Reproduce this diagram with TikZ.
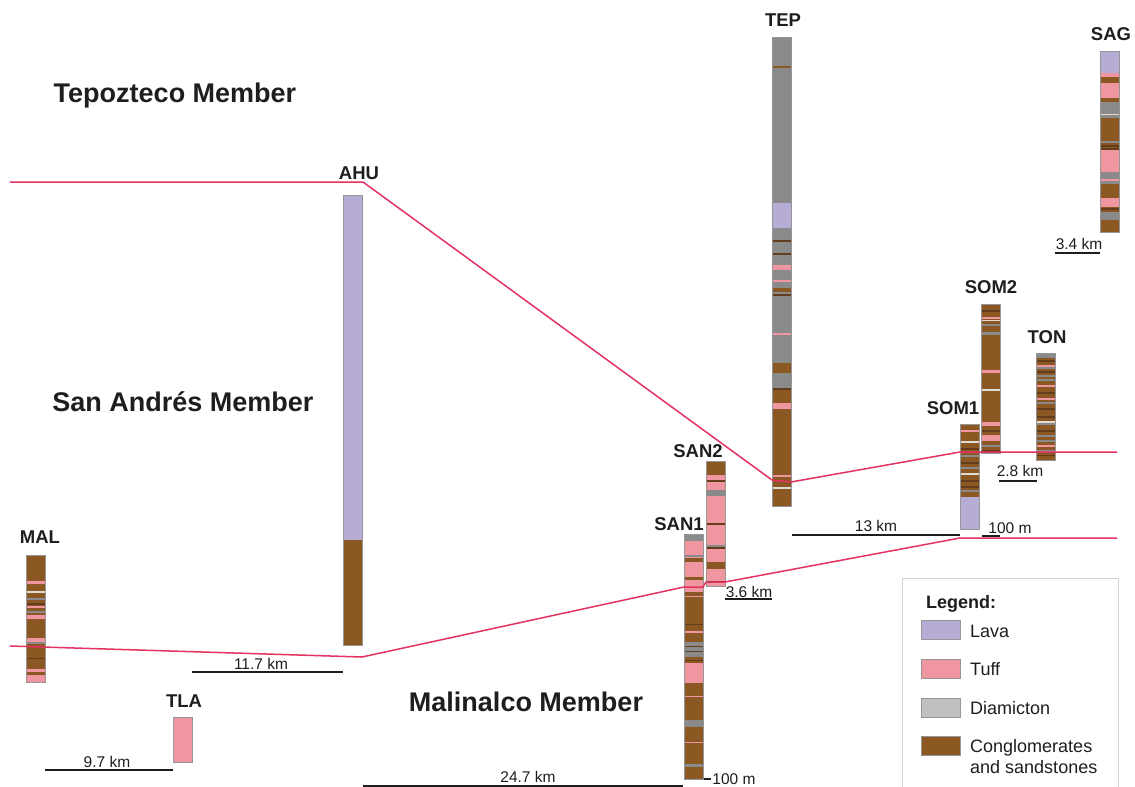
\documentclass[tikz,border=0pt]{standalone}
\usepackage{fontspec}
\setmainfont{Liberation Sans}
\definecolor{lava}{RGB}{183,172,214}
\definecolor{tuff}{RGB}{240,150,160}
\definecolor{diam}{RGB}{138,138,138}
\definecolor{diamleg}{RGB}{192,192,192}
\definecolor{cong}{RGB}{139,88,36}
\definecolor{darkbr}{RGB}{100,62,28}
\definecolor{lightln}{RGB}{225,220,210}
\definecolor{corr}{RGB}{228,50,98}
\definecolor{ink}{RGB}{30,30,30}
\definecolor{colborder}{RGB}{150,150,150}
\newcommand{\geocol}[5]{%
  \fill[#4] (#1,#2) rectangle (#1+19,#3);
  \foreach \ya/\yb/\cc in {#5} {\fill[\cc] (#1,\ya) rectangle (#1+19,\yb);}
  \draw[colborder,line width=0.6pt] (#1,#2) rectangle (#1+19,#3);
}
\begin{document}
\begin{tikzpicture}[x=1pt,y=-1pt,
  member/.style={font=\fontsize{27}{30}\selectfont\bfseries,text=ink,inner sep=0pt},
  lab/.style={font=\fontsize{18.5}{20}\selectfont\bfseries,text=ink,inner sep=0pt},
  sclab/.style={font=\fontsize{15.5}{17}\selectfont,text=ink,inner sep=0pt},
  leglab/.style={font=\fontsize{18}{20}\selectfont,text=ink,inner sep=0pt,anchor=west,align=left},
  bar/.style={draw=ink,line width=1.2pt},
  corrline/.style={draw=corr,line width=1.5pt,line join=round},
  swatch/.style={minimum width=39pt,minimum height=19pt,inner sep=0pt,draw=colborder,line width=0.4pt}]
\useasboundingbox (0,0) rectangle (1135,787);
\fill[white] (0,0) rectangle (1135,787);

% Member titles
\node[member] (tepm) at (175,96) {Tepozteco Member};
\node[member] (sanm) at (183,402) {San Andrés Member};
\node[member] (malm) at (526,702) {Malinalco Member};

% Columns
\geocol{772}{37}{506}{diam}{66/68/cong,203/228/lava,240/241.5/darkbr,253/255/darkbr,265/270/tuff,280/281.5/tuff,288/292/cong,294/295.5/darkbr,333/334.5/tuff,363/373/cong,388/390/darkbr,390/403/cong,403/409/tuff,409/506/cong,475/477/tuff,487/488.5/lightln}
\geocol{1100}{51}{232}{cong}{51/73/lava,73/77/tuff,83/98/tuff,102/118/diam,113.5/115/lightln,141/143/diam,145/146.5/darkbr,148/149.5/darkbr,150/172/tuff,172/184/diam,179/180.5/tuff,198/207/tuff,208/209.5/darkbr,212/220/diam}
\geocol{343}{195}{645}{cong}{195/540/lava}
\geocol{981}{304}{453}{cong}{310/311.5/darkbr,317/318.5/tuff,319.5/320.5/lightln,324/326/diam,332/334.5/diam,370/372.5/tuff,389/390.5/lightln,422/426/tuff,430/432/darkbr,435/441/tuff,445/447/diam,450/453/darkbr}
\geocol{1036}{353}{460}{cong}{353/358/diam,360/361.5/darkbr,365/366.5/tuff,367/369/diam,371/372.5/darkbr,375/377/diam,379/381/diam,385/387/tuff,392/394/darkbr,398/399.5/tuff,402/404/diam,408/409.5/darkbr,416/418/darkbr,421/422.5/lightln,423/425/diam,430/431.5/darkbr,435/437/diam,440/441.5/diam,445/447/tuff,450/451.5/diam,455/456/darkbr}
\geocol{960}{424}{529}{cong}{430/431.5/tuff,441/442.5/lightln,448/449.5/darkbr,455/456.5/diam,462/463.5/darkbr,467/468.5/diam,473/474.5/lightln,480/481.5/darkbr,486/488/darkbr,490/491.5/diam,497/529/lava}
\geocol{706}{461}{586}{tuff}{461/475/cong,480/481.5/darkbr,490/496/diam,523/524.5/darkbr,545/546.5/diam,547/549/darkbr,562/569/cong,581/583/darkbr}
\geocol{684}{534}{779}{cong}{534/541/diam,541/577/tuff,555/556.5/diam,558/562/cong,577/580/cong,580/592/tuff,596/597/tuff,624/625/darkbr,631/632.5/tuff,642/657/diam,646/647/darkbr,651/652/darkbr,660/661/darkbr,663/683/tuff,696/697/tuff,720/727/diam,742/743/tuff,764/767/diam}
\geocol{26}{555}{682}{cong}{581/584/tuff,591/592.5/lightln,598/600/diam,603/605/darkbr,606/608/tuff,611/612.5/diam,615/619/tuff,638/642/tuff,642/644/diam,658/659/darkbr,669/672/tuff,675/682/tuff}
\geocol{173}{717}{762}{tuff}{}

% Column labels
\node[lab] (tep) at (783,20) {TEP};
\node[lab] (sag) at (1111,34) {SAG};
\node[lab] (ahu) at (359,173) {AHU};
\node[lab] (som2) at (991,287) {SOM2};
\node[lab] (ton) at (1047,337) {TON};
\node[lab] (som1) at (953,408) {SOM1};
\node[lab] (san2) at (698,451) {SAN2};
\node[lab] (san1) at (679,524) {SAN1};
\node[lab] (mal) at (40,537) {MAL};
\node[lab] (tla) at (184,701) {TLA};

% Correlation lines
\coordinate (u0) at (10,182);
\coordinate (u1) at (363,182);
\coordinate (u2) at (772,480);
\coordinate (u3) at (791,482);
\coordinate (u4) at (960,452);
\coordinate (u5) at (1117,452);
\draw[corrline] (u0) -- (u1) -- (u2) -- (u3) -- (u4) -- (u5);
\coordinate (l0) at (10,646);
\coordinate (l1) at (362,657);
\coordinate (l2) at (684,587);
\coordinate (l3) at (703,587);
\coordinate (l4) at (706,582);
\coordinate (l5) at (725,582);
\coordinate (l6) at (960,538);
\coordinate (l7) at (1117,538);
\draw[corrline] (l0) -- (l1) -- (l2) -- (l3) -- (l4) -- (l5) -- (l6) -- (l7);

% Scale bars
\coordinate (s1a) at (192,672); \coordinate (s1b) at (343,672);
\draw[bar] (s1a) -- (s1b);
\node[sclab] (s1t) at (261,664) {11.7 km};
\coordinate (s2a) at (363,786); \coordinate (s2b) at (683,786);
\draw[bar] (s2a) -- (s2b);
\node[sclab] (s2t) at (528,777) {24.7 km};
\coordinate (s3a) at (45,770); \coordinate (s3b) at (173,770);
\draw[bar] (s3a) -- (s3b);
\node[sclab] (s3t) at (107,762) {9.7 km};
\coordinate (s4a) at (792,535); \coordinate (s4b) at (960,535);
\draw[bar] (s4a) -- (s4b);
\node[sclab] (s4t) at (876,526) {13 km};
\coordinate (s5a) at (725,599); \coordinate (s5b) at (772,599);
\draw[bar] (s5a) -- (s5b);
\node[sclab] (s5t) at (749,592) {3.6 km};
\coordinate (s6a) at (999,481); \coordinate (s6b) at (1037,481);
\draw[bar] (s6a) -- (s6b);
\node[sclab] (s6t) at (1020,471) {2.8 km};
\coordinate (s7a) at (1055,253); \coordinate (s7b) at (1100,253);
\draw[bar] (s7a) -- (s7b);
\node[sclab] (s7t) at (1079,244) {3.4 km};
\coordinate (s8a) at (982,536); \coordinate (s8b) at (1000,536);
\draw[bar] (s8a) -- (s8b);
\node[sclab] (s8t) at (1010,528) {100 m};
\coordinate (s9a) at (704,779); \coordinate (s9b) at (711,779);
\draw[bar] (s9a) -- (s9b);
\node[sclab] (s9t) at (734,779) {100 m};

% Legend
\draw[draw=gray!35,line width=1pt,fill=white] (902,578) rectangle (1118,800);
\node[font=\fontsize{18}{20}\selectfont\bfseries,text=ink,inner sep=0pt] (legt) at (961,604) {Legend:};
\node[swatch,fill=lava] (lg1) at (940.5,630) {};
\node[swatch,fill=tuff] (lg2) at (940.5,668.5) {};
\node[swatch,fill=diamleg] (lg3) at (940.5,707.5) {};
\node[swatch,fill=cong] (lg4) at (940.5,745.5) {};
\node[leglab] (lt1) at (970,631) {Lava};
\node[leglab] (lt2) at (970,669) {Tuff};
\node[leglab] (lt3) at (970,708) {Diamicton};
\node[leglab,font=\fontsize{18}{21}\selectfont] (lt4) at (970,757) {Conglomerates\\and sandstones};
\end{tikzpicture}
\end{document}
